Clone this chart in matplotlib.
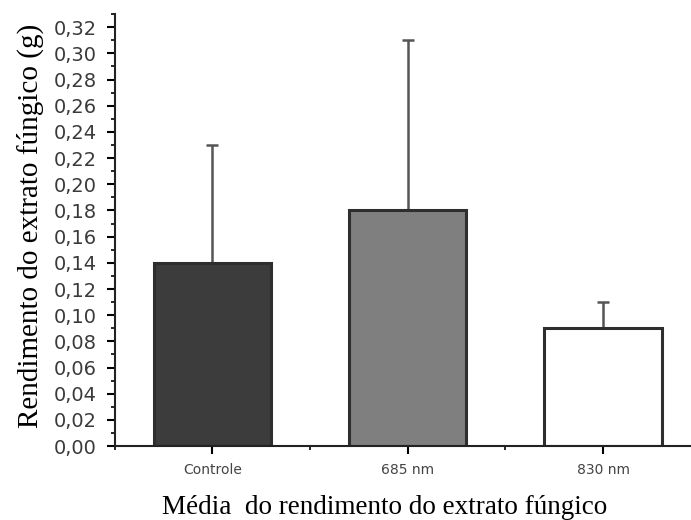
import numpy as np
import matplotlib.pyplot as plt
from matplotlib.ticker import MultipleLocator, FuncFormatter

# Data
categorias = ['Controle', '685 nm', '830 nm']
medias = [0.14, 0.18, 0.09]
erros = [0.09, 0.13, 0.02]
cores = ['#3c3c3c', '#7f7f7f', '#ffffff']

fig = plt.figure(figsize=(6.91, 5.2), dpi=100)
ax = fig.add_axes([0.166, 0.142, 0.834, 0.831])

x = np.arange(len(categorias))
ax.bar(x, medias, width=0.6, color=cores, edgecolor='#2e2e2e', linewidth=2.2, zorder=2)
ax.errorbar(x, medias, yerr=[np.zeros(len(erros)), erros], fmt='none',
            ecolor='#555555', elinewidth=1.8, capsize=4, capthick=1.8, zorder=1)

ax.set_xlim(-0.5, 2.45)
ax.set_ylim(0, 0.33)

# y axis ticks with comma decimals
ax.yaxis.set_major_locator(MultipleLocator(0.02))
ax.yaxis.set_minor_locator(MultipleLocator(0.01))
ax.yaxis.set_major_formatter(FuncFormatter(lambda v, p: ('%.2f' % v).replace('.', ',')))
ax.set_xticks(x)
ax.set_xticklabels(categorias)
ax.xaxis.set_minor_locator(MultipleLocator(0.5))

ax.tick_params(axis='y', which='major', length=6, width=1.5, labelsize=14,
               labelcolor='#3a3a3a', direction='out', pad=7)
ax.tick_params(axis='y', which='minor', length=3, width=1.2)
ax.tick_params(axis='x', which='major', length=6, width=1.5, labelsize=10,
               labelcolor='#444444', pad=6)
ax.tick_params(axis='x', which='minor', length=3, width=1.2)

for s in ['top', 'right']:
    ax.spines[s].set_visible(False)
for s in ['left', 'bottom']:
    ax.spines[s].set_linewidth(1.5)
    ax.spines[s].set_color('#222222')

ax.set_ylabel('Rendimento do extrato fúngico (g)', family='Liberation Serif', fontsize=21)
ax.yaxis.set_label_coords(-0.123, 0.51)
ax.set_xlabel('Média  do rendimento do extrato fúngico', family='Liberation Serif', fontsize=19.5)
ax.xaxis.set_label_coords(0.469, -0.113)

fig.savefig('out.png', dpi=100)
